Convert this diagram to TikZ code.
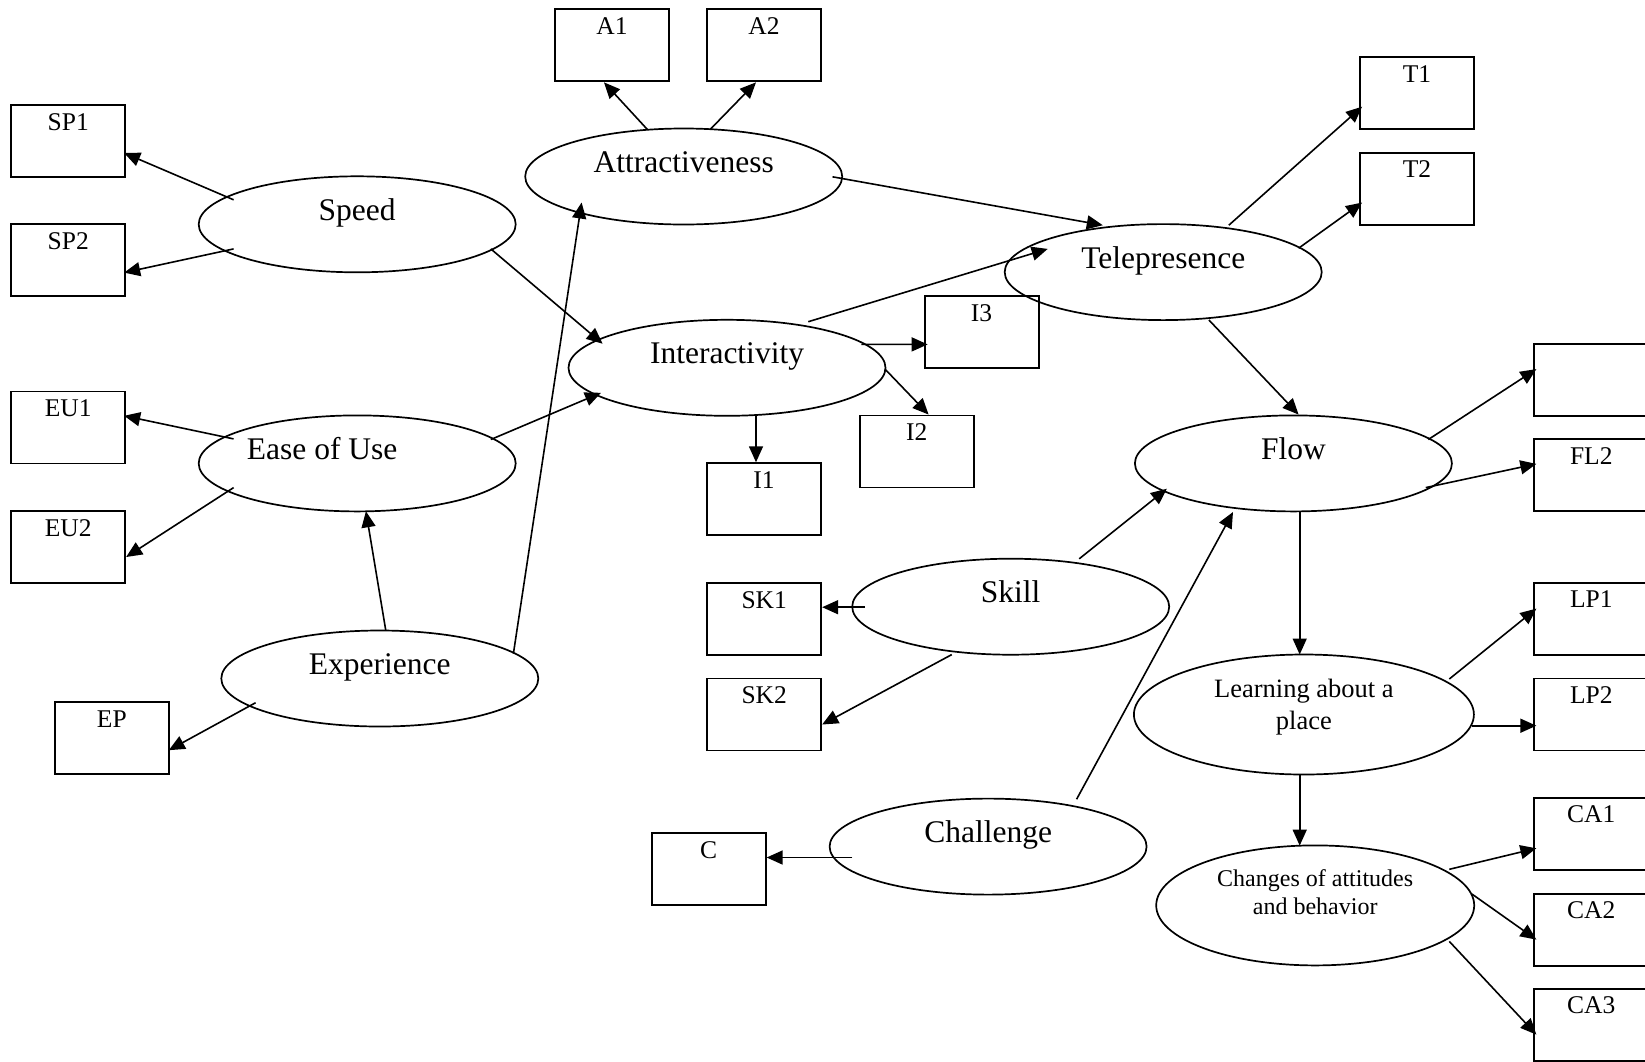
\documentclass[tikz,border=0pt]{standalone}
\usepackage{fontspec}
\setmainfont{Liberation Serif}
\usetikzlibrary{shapes.geometric,arrows.meta,calc}
\begin{document}
\begin{tikzpicture}[x=1pt,y=-1pt,
  ell/.style={draw, ellipse, line width=1.7pt, minimum width=317pt, minimum height=96pt, inner sep=0pt},
  box/.style={draw, rectangle, line width=1.9pt, minimum width=114pt, minimum height=72pt, inner sep=0pt},
  bigtxt/.style={font=\fontsize{31.5}{36}\selectfont, anchor=base, inner sep=0pt},
  boxtxt/.style={font=\fontsize{25.5}{30}\selectfont, anchor=base, inner sep=0pt},
  arr/.style={line width=1.6pt, -{Triangle[length=16pt,width=14pt]}}]
\useasboundingbox (0,0) rectangle (1645,1061);
\clip (0,0) rectangle (1645,1061);
\fill[white] (0,0) rectangle (1645,1061);

% latent variables
\node[ell] (attr) at (683.7,176.5) {};
\node[ell] (speed) at (357.2,224.3) {};
\node[ell] (inter) at (727,367.8) {};
\node[ell] (ease) at (357.2,463.4) {};
\node[ell] (tele) at (1163.2,272.1) {};
\node[ell] (flow) at (1293.4,463.4) {};
\node[ell] (skill) at (1010.7,606.7) {};
\node[ell] (exper) at (379.8,678.5) {};
\node[ell] (chall) at (988.1,846.6) {};
\node[ell, minimum width=340pt, minimum height=120pt] (learn) at (1303.9,714.5) {};
\node[ell, minimum width=318pt, minimum height=120pt] (change) at (1315.2,905.4) {};

\node[bigtxt] (attrt) at ($(attr)+(0,-4)$) {Attractiveness};
\node[bigtxt] (speedt) at ($(speed)+(0,-4)$) {Speed};
\node[bigtxt] (intert) at ($(inter)+(0,-4)$) {Interactivity};
\node[bigtxt] (easet) at ($(ease)+(-35,-4)$) {Ease of Use};
\node[bigtxt] (telet) at ($(tele)+(0,-4)$) {Telepresence};
\node[bigtxt] (flowt) at ($(flow)+(0,-4)$) {Flow};
\node[bigtxt] (skillt) at ($(skill)+(0,-4)$) {Skill};
\node[bigtxt] (expert) at ($(exper)+(0,-4)$) {Experience};
\node[bigtxt] (challt) at ($(chall)+(0,-4)$) {Challenge};
\node[font=\fontsize{26.5}{32}\selectfont, align=center, inner sep=0pt] (learnt) at ($(learn)+(0,-7.5)$) {Learning about a\\place};
\node[font=\fontsize{24}{28}\selectfont, align=center, inner sep=0pt] (changet) at ($(change)+(0,-13.5)$) {Changes of attitudes\\and behavior};

% indicators
\node[box] (a1) at (612,45.4) {};
\node[box] (a2) at (764,45.4) {};
\node[box] (sp1) at (68.2,141) {};
\node[box] (sp2) at (68.2,260) {};
\node[box] (eu1) at (68.2,427.5) {};
\node[box] (eu2) at (68.2,547) {};
\node[box] (ep) at (111.8,738.2) {};
\node[box] (i1) at (764,499.2) {};
\node[box] (i2) at (916.8,451.5) {};
\node[box] (i3) at (981.6,332.2) {};
\node[box] (sk1) at (764.2,619) {};
\node[box] (sk2) at (764.2,714.5) {};
\node[box] (c) at (708.7,869) {};
\node[box] (t1) at (1417,93.2) {};
\node[box] (t2) at (1417,188.6) {};
\node[box] (fl1) at (1591.3,379.6) {};
\node[box] (fl2) at (1591.3,475.4) {};
\node[box] (lp1) at (1591.3,618.6) {};
\node[box] (lp2) at (1591.3,714.5) {};
\node[box] (ca1) at (1591.3,833.6) {};
\node[box] (ca2) at (1591.3,929.6) {};
\node[box] (ca3) at (1591.3,1024.9) {};

\node[boxtxt] (a1t) at ($(a1.north)+(0,26)$) {A1};
\node[boxtxt] (a2t) at ($(a2.north)+(0,26)$) {A2};
\node[boxtxt] (sp1t) at ($(sp1.north)+(0,26)$) {SP1};
\node[boxtxt] (sp2t) at ($(sp2.north)+(0,26)$) {SP2};
\node[boxtxt] (eu1t) at ($(eu1.north)+(0,26)$) {EU1};
\node[boxtxt] (eu2t) at ($(eu2.north)+(0,26)$) {EU2};
\node[boxtxt] (ept) at ($(ep.north)+(0,26)$) {EP};
\node[boxtxt] (i1t) at ($(i1.north)+(0,26)$) {I1};
\node[boxtxt] (i2t) at ($(i2.north)+(0,26)$) {I2};
\node[boxtxt] (i3t) at ($(i3.north)+(0,26)$) {I3};
\node[boxtxt] (sk1t) at ($(sk1.north)+(0,26)$) {SK1};
\node[boxtxt] (sk2t) at ($(sk2.north)+(0,26)$) {SK2};
\node[boxtxt] (ct) at ($(c.north)+(0,26)$) {C};
\node[boxtxt] (t1t) at ($(t1.north)+(0,26)$) {T1};
\node[boxtxt] (t2t) at ($(t2.north)+(0,26)$) {T2};
\node[boxtxt] (fl2t) at ($(fl2.north)+(0,26)$) {FL2};
\node[boxtxt] (lp1t) at ($(lp1.north)+(0,26)$) {LP1};
\node[boxtxt] (lp2t) at ($(lp2.north)+(0,26)$) {LP2};
\node[boxtxt] (ca1t) at ($(ca1.north)+(0,26)$) {CA1};
\node[boxtxt] (ca2t) at ($(ca2.north)+(0,26)$) {CA2};
\node[boxtxt] (ca3t) at ($(ca3.north)+(0,26)$) {CA3};

% connectors
\draw[arr] ($(attr)+(-36.4,-47.1)$) -- ($(a1.south)+(-8,0)$);
\draw[arr] ($(attr)+(26.5,-47.1)$) -- ($(a2.south)+(-8,0)$);
\draw[arr] ($(speed)+(-123.6,-24.5)$) -- ($(sp1.east)+(-2,12)$);
\draw[arr] ($(speed)+(-123.6,24.6)$) -- ($(sp2.east)+(-2,12.6)$);
\draw[arr] ($(speed)+(133.6,24.6)$) -- ($(inter)+(-124.4,-24.1)$);
\draw[arr] ($(ease)+(-123.6,-24.5)$) -- ($(eu1.east)+(-2,-11.7)$);
\draw[arr] ($(ease)+(-123.6,24.2)$) -- ($(eu2.east)+(0,10)$);
\draw[arr] ($(ease)+(133.6,-23.9)$) -- ($(inter)+(-126,25)$);
\draw[arr] ($(exper)+(6,-47.9)$) -- ($(ease)+(8.7,47.9)$);
\draw[arr] ($(exper)+(133.6,-24.9)$) -- ($(attr)+(-102.1,26)$);
\draw[arr] ($(attr)+(148.8,0.3)$) -- ($(tele)+(-60.4,-46.9)$);
\draw[arr] ($(inter)+(81.3,-46.1)$) -- ($(tele)+(-115.5,-23.2)$);
\draw[arr] ($(inter)+(134.4,-23.4)$) -- ($(i3.west)+(4,12.2)$);
\draw[arr] ($(inter)+(158,1.3)$) -- ($(i2.north)+(11.8,0)$);
\draw[arr] ($(inter)+(29,47.7)$) -- ($(i1.north)+(-8,0)$);
\draw[arr] ($(tele)+(65.6,-46.9)$) -- ($(t1.west)+(3,13.5)$);
\draw[arr] ($(tele)+(135.4,-23.9)$) -- ($(t2.west)+(3,14)$);
\draw[arr] ($(tele)+(45.7,47.9)$) -- ($(flow.north)+(5.2,0)$);
\draw[arr] ($(flow)+(134.9,-23.9)$) -- ($(fl1.west)+(3,-10.5)$);
\draw[arr] ($(flow)+(132.3,24.2)$) -- ($(fl2.west)+(3,-11.5)$);
\draw[arr] ($(skill)+(68.5,-47.9)$) -- ($(flow)+(-126.5,25.3)$);
\draw[arr] ($(chall)+(88.5,-47.4)$) -- ($(flow)+(-60.4,48.6)$);
\draw[arr] ($(flow)+(6.3,47.9)$) -- ($(learn)+(-4.2,-60)$);
\draw[arr] ($(skill)+(-145.7,0.5)$) -- ($(sk1.east)+(0,-11.8)$);
\draw[arr] ($(skill)+(-59,47.9)$) -- ($(sk2.east)+(0,10)$);
\draw[arr] ($(chall)+(-135.7,10.9)$) -- ($(c.east)+(0,-11.5)$);
\draw[arr] ($(exper)+(-124.2,24.2)$) -- ($(ep.east)+(-1,12)$);
\draw[arr] ($(learn)+(145.4,-35.5)$) -- ($(lp1.west)+(3,-10)$);
\draw[arr] ($(learn)+(168,11.2)$) -- ($(lp2.west)+(3,11.2)$);
\draw[arr] ($(learn)+(-4.2,60)$) -- ($(change)+(-15.5,-59.8)$);
\draw[arr] ($(change)+(134.1,-36.1)$) -- ($(ca1.west)+(3,14.7)$);
\draw[arr] ($(change)+(156.7,-11.4)$) -- ($(ca2.west)+(3,10)$);
\draw[arr] ($(change)+(134.1,36)$) -- ($(ca3.west)+(3,9.7)$);
\end{tikzpicture}
\end{document}
